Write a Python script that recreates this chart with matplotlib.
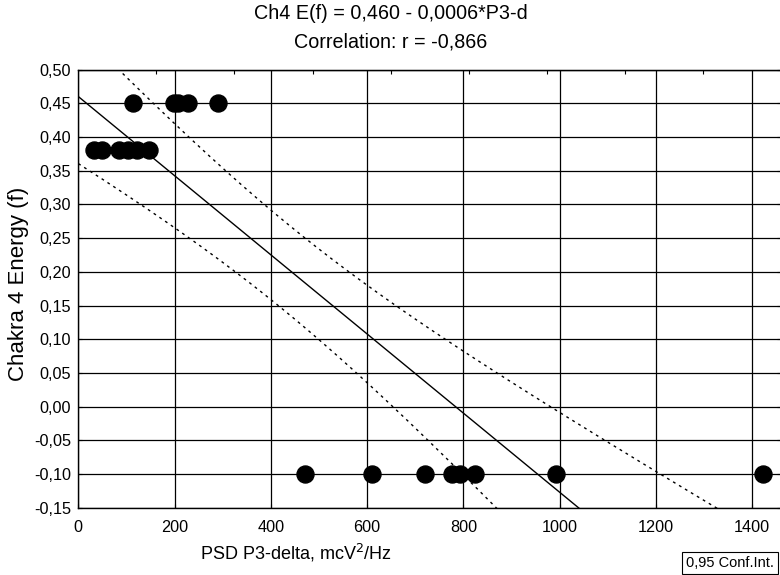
import numpy as np
import matplotlib
matplotlib.use("Agg")
import matplotlib.pyplot as plt

plt.rcParams['font.family'] = ['Liberation Sans', 'DejaVu Sans']

# data
psd_045 = [113, 199, 207, 228, 290]
psd_038 = [33, 50, 85, 104, 121, 146]
psd_m010 = [471, 610, 720, 776, 793, 825, 992, 1423]
energy_levels = [0.45, 0.38, -0.10]

# regression line as drawn (title: 0,460 - 0,0006*P3-d)
intercept = 0.460
slope = -0.000587

title1 = "Ch4 E(f) = 0,460 - 0,0006*P3-d"
title2 = "Correlation: r = -0,866"
yticks = [0.50, 0.45, 0.40, 0.35, 0.30, 0.25, 0.20, 0.15, 0.10, 0.05, 0.00, -0.05, -0.10, -0.15]
xticks = [0, 200, 400, 600, 800, 1000, 1200, 1400]
xmax = 1460
t_crit = 2.11  # t(0.975, df=n-2)

x = np.array(psd_045 + psd_038 + psd_m010, dtype=float)
y = np.array([energy_levels[0]] * len(psd_045) + [energy_levels[1]] * len(psd_038)
             + [energy_levels[2]] * len(psd_m010))

# 95% confidence band around the line
n = len(x)
resid = y - (intercept + slope * x)
s = np.sqrt(np.sum(resid ** 2) / (n - 2))
sxx = np.sum((x - x.mean()) ** 2)
xx = np.linspace(0, xmax, 300)
yy = intercept + slope * xx
half = t_crit * s * np.sqrt(1.0 / n + (xx - x.mean()) ** 2 / sxx)

fig = plt.figure(figsize=(7.8, 5.75), dpi=100)
ax = fig.add_axes([0.1004, 0.117, 0.9009, 0.762])

ax.plot(xx, yy, color='black', lw=1.0, zorder=3)
ax.plot(xx, yy + half, color='black', lw=1.0, linestyle=(0, (2, 3)), zorder=3)
ax.plot(xx, yy - half, color='black', lw=1.0, linestyle=(0, (2, 3)), zorder=3)
ax.scatter(x, y, s=150, color='black', zorder=4, clip_on=False)

ax.set_xlim(0, xmax)
ax.set_ylim(-0.15, 0.50)
ax.set_xticks(xticks)
ax.set_yticks(yticks)
ax.set_yticklabels([("%.2f" % v).replace('.', ',') for v in yticks])
ax.grid(True, color='black', lw=0.9)
ax.set_axisbelow(True)
ax.tick_params(axis='y', direction='in', labelsize=11.7, pad=5, right=True, length=3)
ax.tick_params(axis='x', direction='in', labelsize=11.7, pad=9, length=3)
for sp in ax.spines.values():
    sp.set_linewidth(1.0)

# top ticks (secondary scale)
top = ax.secondary_xaxis('top')
top.set_xticks(np.linspace(0, xmax, 10)[1:-1])
top.tick_params(direction='in', length=3, labeltop=False)

fig.text(391 / 780, 1 - 19 / 575, title1, ha='center', va='baseline', fontsize=14.2)
fig.text(391 / 780, 1 - 48 / 575, title2, ha='center', va='baseline', fontsize=14.2)
fig.text(296 / 780, 1 - 553 / 575, "PSD P3-delta, mcV$^2$/Hz", ha='center', va='center',
         fontsize=13)
fig.text(19 / 780, 1 - 284 / 575, "Chakra 4 Energy (f)", ha='center', va='center',
         rotation=90, fontsize=16)
fig.text(686 / 780, 1 - 567 / 575, "0,95 Conf.Int.", ha='left', va='baseline', fontsize=10.5,
         bbox=dict(boxstyle='square,pad=0.3', fc='white', ec='black', lw=0.8))

fig.savefig("out.png", dpi=100)
